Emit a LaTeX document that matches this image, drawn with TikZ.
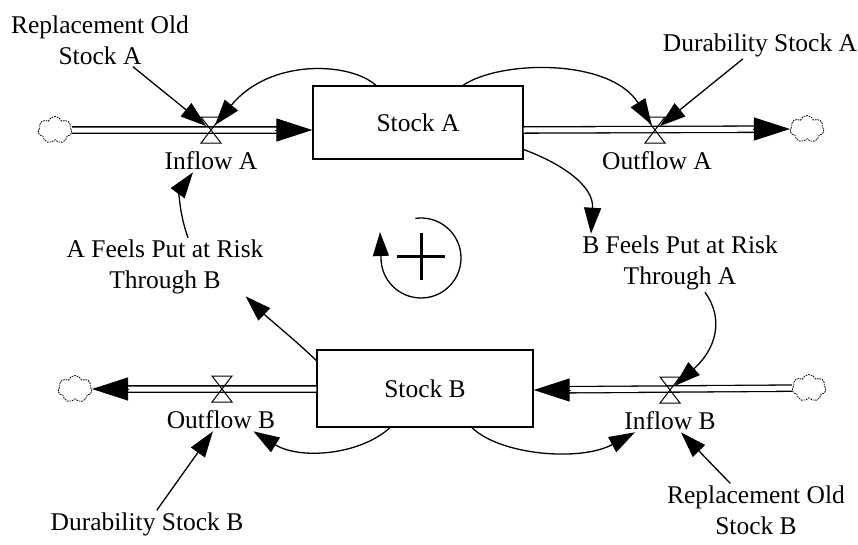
\documentclass[tikz,border=0pt]{standalone}
\usepackage{fontspec}
\setmainfont{Liberation Serif}
\usetikzlibrary{arrows.meta,shapes.symbols}
\begin{document}
\begin{tikzpicture}[x=1pt,y=-1pt,
  lbl/.style={align=center, inner sep=2pt, font=\fontsize{25.5}{31}\selectfont},
  stock/.style={draw, line width=1.3pt, inner sep=0pt, font=\fontsize{25.5}{31}\selectfont},
  cld/.style={cloud, cloud puffs=7, cloud puff arc=140, aspect=1.25, draw, dash pattern=on 1.6pt off 1pt, line width=0.8pt, minimum width=34pt, minimum height=27pt, inner sep=0pt},
  valve/.style={circle, inner sep=0pt, minimum size=12pt},
  pipe/.style={double, double distance=5pt, line width=1.3pt, shorten >=33pt},
  flowhead/.style={-{Triangle[length=36pt,width=23pt]}, line width=1pt},
  link/.style={-{Triangle[length=26pt,width=17pt]}, line width=1.3pt}]
\useasboundingbox (0,0) rectangle (858,544);
\node[stock, minimum width=210pt, minimum height=73pt] (stockA) at (418,122.5) {Stock A};
\node[stock, minimum width=216pt, minimum height=77pt] (stockB) at (425,388.5) {Stock B};
\node[cld] (cldA1) at (55,130) {};
\node[cld] (cldA2) at (807,129) {};
\node[cld] (cldB1) at (75,389) {};
\node[cld] (cldB2) at (809,388) {};
\node[valve] (vInA) at (211,130) {};
\node[valve] (vOutA) at (655,130) {};
\node[valve] (vOutB) at (222,389) {};
\node[valve] (vInB) at (670,390) {};
\node[lbl] (lInA) at (211,161) {Inflow A};
\node[lbl] (lOutA) at (657,161) {Outflow A};
\node[lbl] (lOutB) at (221,420) {Outflow B};
\node[lbl] (lInB) at (670,421) {Inflow B};
\node[lbl] (repA) at (100,40) {Replacement Old\\Stock A};
\node[lbl] (durA) at (760,45) {Durability Stock A};
\node[lbl] (bfa) at (680,263) {B Feels Put at Risk\\Through A};
\node[lbl] (afb) at (165,267) {A Feels Put at Risk\\Through B};
\node[lbl] (durB) at (147,524) {Durability Stock B};
\node[lbl] (repB) at (756,510) {Replacement Old\\Stock B};
% flows
\draw[pipe] (cldA1) -- (stockA.west |- vInA);
\draw[flowhead] (stockA.west |- vInA) ++(-37,0) -- (stockA.west |- vInA);
\draw[pipe] (stockA.east |- vOutA) -- (cldA2);
\draw[flowhead] (cldA2.west) ++(-37,0) -- (cldA2.west);
\draw[pipe] (cldB2) -- (stockB.east |- vInB);
\draw[flowhead] (stockB.east |- vInB) ++(37,0) -- (stockB.east |- vInB);
\draw[pipe] (stockB.west |- vOutB) -- (cldB1);
\draw[flowhead] (cldB1.east) ++(37,0) -- (cldB1.east);
\foreach \v in {vInA,vOutA,vOutB,vInB}
  \draw[line width=1pt] (\v) ++(-10,-13) -- ++(20,0) -- ++(-20,26) -- ++(20,0) -- cycle;
% links
\draw[link] ([xshift=-42pt]stockA.north) .. controls (350,62) and (270,58) .. (vInA);
\draw[link] (repA) -- (vInA);
\draw[link] ([xshift=45pt]stockA.north) .. controls (500,60) and (610,58) .. (vOutA);
\draw[link] (durA) -- (vOutA);
\draw[link] ([yshift=-27pt]stockA.east) .. controls (560,163) and (594,185) .. ([xshift=-89pt]bfa.north);
\draw[link] ([xshift=25pt]bfa.south) .. controls (725,320) and (715,350) .. (vInB);
\draw[link] (repB) -- (lInB);
\draw[link] ([xshift=-35pt]stockB.south) .. controls (360,455) and (300,460) .. ([xshift=-24pt]lOutB.south east);
\draw[link] ([xshift=47pt]stockB.south) .. controls (500,455) and (580,462) .. ([xshift=-35pt]lInB.south);
\draw[link] (durB) -- (lOutB);
\draw[link] ([yshift=28pt]stockB.west) .. controls (295,340) and (268,318) .. ([xshift=-20pt]afb.south east);
\draw[link] ([xshift=23pt]afb.north) .. controls (178,210) and (180,190) .. ([xshift=-18pt]lInA.south);
% loop
\draw[line width=3pt] (397,256) -- (445,256) (421,233) -- (421,280);
\draw[-{Triangle[length=24pt,width=16pt]}, line width=1.3pt] (421,258) ++(262:40) arc[start angle=262, end angle=540, radius=40] -- ++(-1,-26);
\end{tikzpicture}
\end{document}
